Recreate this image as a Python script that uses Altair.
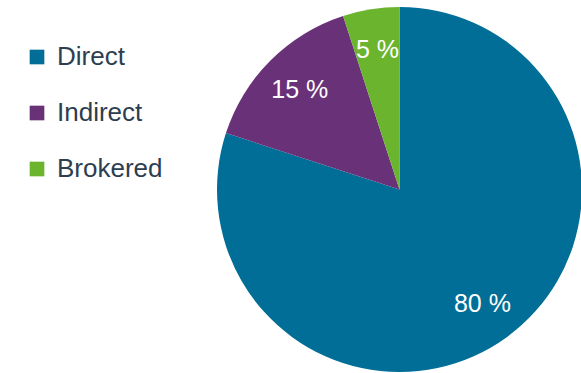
import altair as alt
import pandas as pd

categories = ["Direct", "Indirect", "Brokered"]
values = [80, 15, 5]
colors = ["#006e96", "#693178", "#6ab42e"]

df = pd.DataFrame({"channel": categories, "share": values, "order": list(range(len(categories)))})

base = alt.Chart(df).transform_calculate(
    label="datum.share + ' %'"
).encode(
    theta=alt.Theta("share:Q", stack=True),
    order=alt.Order("order:Q"),
)

pie = base.mark_arc(radius=182.5, x=399.5, y=189.5).encode(
    color=alt.Color(
        "channel:N",
        sort=categories,
        scale=alt.Scale(domain=categories, range=colors),
        legend=alt.Legend(
            title=None,
            orient="none",
            legendX=24,
            legendY=44,
            padding=0,
            symbolType="square",
            symbolSize=215,
            symbolStrokeWidth=0,
            labelFontSize=26,
            labelFont="Liberation Sans",
            labelColor="#2c3e50",
            labelOffset=7,
            rowPadding=30,
        ),
    )
)

labels = base.mark_text(
    radius=141, x=399.5, y=189.5, fontSize=25, font="Liberation Sans",
    color="white", align="center", baseline="middle"
).encode(text="label:N")

chart = alt.layer(pie, labels).properties(
    width=581, height=373, autosize=alt.AutoSizeParams(type="none"), padding=0
).configure_view(stroke=None)

chart.save("out.html", embed_options={"renderer": "svg", "actions": False})
